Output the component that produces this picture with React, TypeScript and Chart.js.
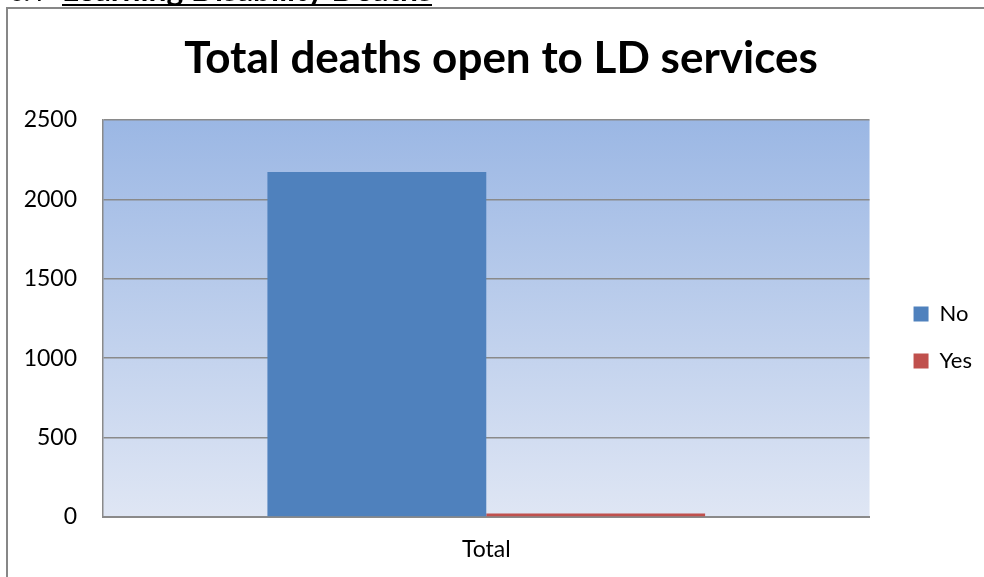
import React, { useEffect, useRef } from "react";
import { Chart, registerables } from "chart.js";

Chart.register(...registerables);

const categories = ["Total"];
const seriesNames = ["No", "Yes"];
const noValues = [2172];
const yesValues = [22];
const yMin = 0;
const yMax = 2500;
const yStep = 500;
const chartTitle = "Total deaths open to LD services";
const headingNumber = "6.4";
const headingText = "Learning Disability Deaths";

const FONT = "Lato, 'Open Sans', sans-serif";

const framePlugin = {
  id: "frame",
  beforeDraw(chart: any) {
    const { ctx, chartArea } = chart;
    ctx.save();
    const g = ctx.createLinearGradient(0, chartArea.top, 0, chartArea.bottom);
    g.addColorStop(0, "#9bb7e4");
    g.addColorStop(1, "#dfe6f4");
    ctx.fillStyle = g;
    ctx.fillRect(chartArea.left, chartArea.top, chartArea.right - chartArea.left, chartArea.bottom - chartArea.top);
    ctx.fillStyle = "#000";
    ctx.textBaseline = "alphabetic";
    ctx.textAlign = "left";
    ctx.font = `bold 24px ${FONT}`;
    ctx.fillText(headingNumber, 10, 1);
    const w = ctx.measureText(headingText).width;
    const size = 24 * (370 / w);
    ctx.font = `bold ${size}px ${FONT}`;
    ctx.fillText(headingText, 62, 1);
    ctx.fillRect(62, 4, 370, 2);
    ctx.strokeStyle = "#878787";
    ctx.lineWidth = 2;
    ctx.strokeRect(7, 8, 1100, 1000);
    ctx.restore();
  },
  afterLayout(chart: any) {
    const lg = chart.legend;
    if (lg) {
      const dx = chart.chartArea.right + 19 - lg.left;
      lg.left += dx;
      lg.right += dx;
      lg.top += 49;
      lg.bottom += 49;
    }
    const tb = chart.titleBlock;
    if (tb) {
      const dx = 501 - (tb.left + tb.right) / 2;
      tb.left += dx;
      tb.right += dx;
    }
  },
};

export default function App() {
  const ref = useRef<HTMLCanvasElement | null>(null);
  useEffect(() => {
    if (!ref.current) return;
    const chart = new Chart(ref.current, {
      type: "bar",
      data: {
        labels: categories,
        datasets: [
          { label: seriesNames[0], data: noValues, backgroundColor: "#4f81bd", borderWidth: 0 },
          { label: seriesNames[1], data: yesValues, backgroundColor: "#c0504d", borderWidth: 0 },
        ],
      },
      options: {
        responsive: false,
        animation: false,
        events: [],
        datasets: { bar: { categoryPercentage: 0.571, barPercentage: 1 } },
        layout: { padding: { top: 0, left: 0, right: 21, bottom: 0 } },
        plugins: {
          title: {
            display: true,
            text: chartTitle,
            color: "#000",
            font: { family: FONT, size: 44, weight: "bold", lineHeight: 1.2 },
            padding: { top: 32, bottom: 35.2 },
          },
          legend: {
            display: true,
            position: "right",
            labels: {
              boxWidth: 15,
              boxHeight: 15,
              padding: 25,
              color: "#000",
              font: { family: FONT, size: 22 },
            },
          },
          tooltip: { enabled: false },
        },
        scales: {
          x: {
            grid: { display: false, drawTicks: false },
            border: { display: true, color: "#8a8a8a", width: 2 },
            ticks: { color: "#000", font: { family: FONT, size: 23 }, padding: 19 },
            afterFit(scale: any) {
              scale.height = 60;
            },
          },
          y: {
            min: yMin,
            max: yMax,
            grid: { color: "#8a8a8a", lineWidth: 1.5, drawTicks: false },
            border: { display: true, color: "#8a8a8a", width: 1.5 },
            ticks: {
              stepSize: yStep,
              color: "#000",
              font: { family: FONT, size: 23 },
              padding: 26,
              callback: (v: any) => String(v),
            },
            afterFit(scale: any) {
              scale.width = 103;
            },
          },
        },
      },
      plugins: [framePlugin],
    });
    return () => chart.destroy();
  }, []);
  return (
    <div style={{ position: "fixed", left: 0, top: 0, width: 984, height: 577, background: "#fff" }}>
      <canvas ref={ref} width={984} height={577} style={{ display: "block" }} />
    </div>
  );
}
